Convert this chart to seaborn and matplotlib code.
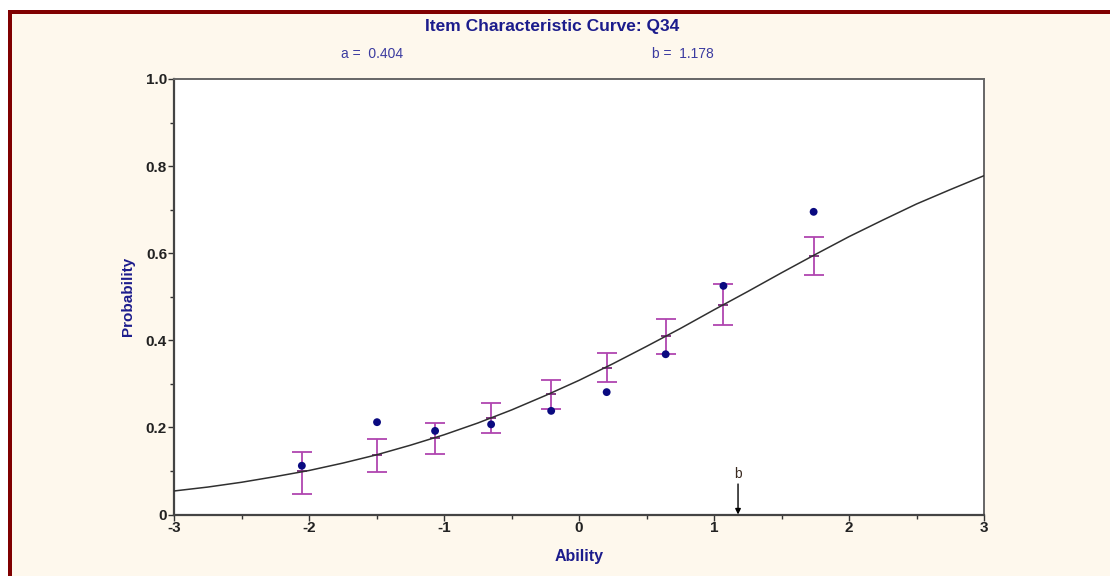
import numpy as np
import pandas as pd
import matplotlib
matplotlib.use("Agg")
import matplotlib.pyplot as plt
from matplotlib.patches import Rectangle
from matplotlib.ticker import MultipleLocator
import seaborn as sns

# item parameters shown on the chart
a_param = 0.404
b_param = 1.178

# fitted curve, every 0.25 ability units
curve_x = [-3.0, -2.75, -2.5, -2.25, -2.0, -1.75, -1.5, -1.25, -1.0, -0.75, -0.5, -0.25,
           0.0, 0.25, 0.5, 0.75, 1.0, 1.25, 1.5, 1.75, 2.0, 2.25, 2.5, 2.75, 3.0]
curve_p = [0.054, 0.063, 0.074, 0.087, 0.101, 0.118, 0.137, 0.159, 0.183, 0.210, 0.240, 0.273,
           0.308, 0.346, 0.386, 0.427, 0.470, 0.512, 0.555, 0.597, 0.638, 0.676, 0.713, 0.746, 0.778]

# ability groups: observed proportion, expected value and error bar limits
group_x = [-2.053, -1.496, -1.066, -0.651, -0.206, 0.205, 0.642, 1.070, 1.738]
observed = [0.112, 0.212, 0.192, 0.207, 0.238, 0.281, 0.368, 0.525, 0.695]
expected = [0.100, 0.137, 0.176, 0.221, 0.277, 0.337, 0.409, 0.481, 0.594]
err_low = [0.047, 0.098, 0.138, 0.186, 0.243, 0.304, 0.369, 0.434, 0.550]
err_high = [0.144, 0.173, 0.209, 0.255, 0.309, 0.371, 0.448, 0.529, 0.638]

navy = "#1c1c8c"
purple = "#b045b0"
cream = "#fef8ed"

sns.set_style("white")
plt.rcParams["font.family"] = ["Liberation Sans Narrow", "Liberation Sans", "DejaVu Sans"]

fig = plt.figure(figsize=(11.1, 5.76), dpi=100)
fig.patch.set_facecolor("white")
W, H = 1110, 576
# cream panel with dark red frame on top and left
fig.patches.append(Rectangle((12 / W, 0), 1, (H - 14) / H, transform=fig.transFigure,
                             facecolor=cream, edgecolor="none", zorder=-10))
fig.patches.append(Rectangle((8 / W, (H - 14) / H), 1, 4 / H, transform=fig.transFigure,
                             facecolor="#800000", edgecolor="none", zorder=-9))
fig.patches.append(Rectangle((8 / W, 0), 4 / W, (H - 10) / H, transform=fig.transFigure,
                             facecolor="#800000", edgecolor="none", zorder=-9))

ax = fig.add_axes([174 / W, 1 - 514.5 / H, 810 / W, 435.5 / H])
ax.set_facecolor("white")

yerr = [np.array(expected) - np.array(err_low), np.array(err_high) - np.array(expected)]
ax.errorbar(group_x, expected, yerr=yerr, fmt="none", ecolor=purple, elinewidth=1.3,
            capsize=7, capthick=1.3, zorder=2)
ax.scatter(group_x, expected, marker="_", s=60, color="#7a2a7a", linewidths=1.3, zorder=2)

curve_df = pd.DataFrame({"Ability": curve_x, "Probability": curve_p})
sns.lineplot(data=curve_df, x="Ability", y="Probability", color="#303030", linewidth=1.1,
             ax=ax, zorder=3)

obs_df = pd.DataFrame({"Ability": group_x, "Probability": observed})
sns.scatterplot(data=obs_df, x="Ability", y="Probability", color="#0a0a80", s=32,
                edgecolor="none", ax=ax, zorder=4)

# b location marker
ax.annotate("", xy=(b_param, 0), xytext=(b_param, 0.07),
            arrowprops=dict(arrowstyle="-|>", color="black", lw=1, mutation_scale=8,
                            shrinkA=0, shrinkB=0))
ax.text(b_param, 0.078, "b", ha="center", va="bottom", fontsize=10, color="#3a2a20")

ax.set_xlim(-3, 3)
ax.set_ylim(0, 1)
ax.xaxis.set_major_locator(MultipleLocator(1))
ax.xaxis.set_minor_locator(MultipleLocator(0.5))
ax.yaxis.set_major_locator(MultipleLocator(0.2))
ax.yaxis.set_minor_locator(MultipleLocator(0.1))
ax.set_xticks([-3, -2, -1, 0, 1, 2, 3])
ax.set_xticklabels(["-3", "-2", "-1", "0", "1", "2", "3"])
ax.set_yticks([0, 0.2, 0.4, 0.6, 0.8, 1.0])
ax.set_yticklabels(["0", "0.2", "0.4", "0.6", "0.8", "1.0"])
ax.tick_params(which="major", direction="out", length=4, width=1, color="#333333",
               labelsize=11, labelcolor="#222222", pad=1, bottom=True, left=True)
ax.tick_params(which="minor", direction="out", length=3, width=1, color="#333333",
               bottom=True, left=True)
for lab in ax.get_xticklabels() + ax.get_yticklabels():
    lab.set_fontweight("bold")

for side in ["left", "bottom"]:
    ax.spines[side].set_color("#444444")
    ax.spines[side].set_linewidth(1.6)
for side in ["top", "right"]:
    ax.spines[side].set_color("#666666")
    ax.spines[side].set_linewidth(1.4)

ax.set_xlabel("Ability", fontsize=11.5, fontweight="bold", color=navy, labelpad=10)
ax.set_ylabel("Probability", fontsize=11, fontweight="bold", color=navy, labelpad=8)

fig.text(552 / W, 1 - 26 / H, "Item Characteristic Curve: Q34", ha="center", va="center",
         fontsize=12.5, fontweight="bold", color=navy)
fig.text(372 / W, 1 - 54 / H, "a =  %.3f" % a_param, ha="center", va="center",
         fontsize=10, color="#3b3ba0")
fig.text(683 / W, 1 - 54 / H, "b =  %.3f" % b_param, ha="center", va="center",
         fontsize=10, color="#3b3ba0")

fig.savefig("out.png", dpi=100, facecolor=fig.get_facecolor())
